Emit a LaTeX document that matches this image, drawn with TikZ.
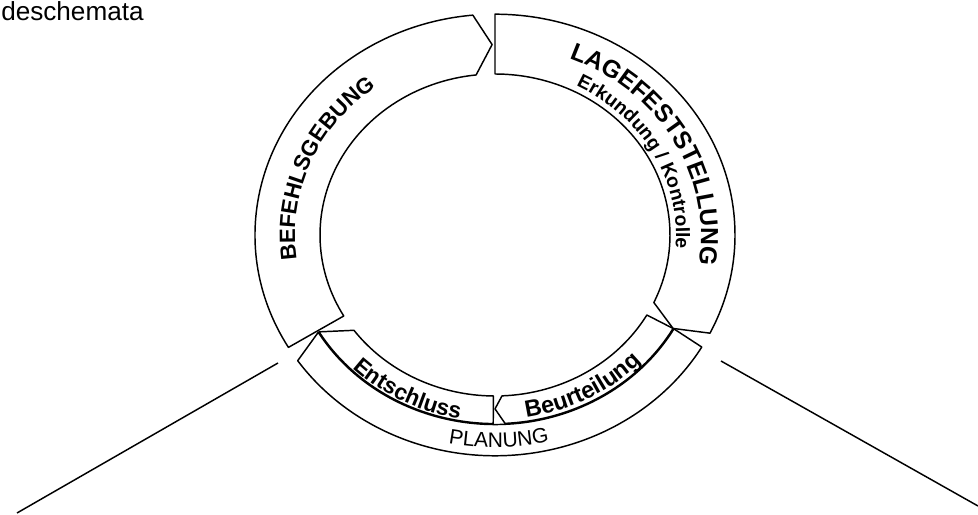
\documentclass[tikz,border=0pt]{standalone}
\usepackage{fontspec}
\setmainfont{Liberation Sans}
\usetikzlibrary{decorations.text}
\definecolor{ink}{HTML}{000000}
\newcommand\ringfont[1]{\fontsize{#1}{#1}\selectfont\bfseries}
\newcommand\ringfontmd[1]{\fontsize{#1}{#1}\selectfont}
\tikzset{
  ringbox/.style={draw=ink, line width=1.1pt, line join=round},
  leader/.style={draw=ink, line width=1.1pt},
  arclabel/.style={decorate, decoration={text along path, text align=center, text color=ink}}
}

\begin{document}
\begin{tikzpicture}[x=0.75pt, y=0.75pt]
  \useasboundingbox (0,0) rectangle (978,514);
  \node[anchor=base west, inner sep=0pt, text=ink, font=\fontsize{19.6pt}{21pt}\selectfont] (caption) at (1,493) {deschemata};

  \begin{scope}[shift={(495,279)}, yscale=0.92]
    % Befehlsgebung
    \draw[ringbox] (210.6:240) arc[start angle=210.6, end angle=95.3, radius=240]
      -- (90.8:207) -- (96.2:175) arc[start angle=96.2, end angle=210.2, radius=175] -- cycle;
    % Lagefeststellung
    \draw[ringbox] (90:240) arc[start angle=90, end angle=-26.4, radius=240]
      -- (-29.7:205) -- (-24.8:175) arc[start angle=-24.8, end angle=90, radius=175] -- cycle;
    % Planung
    \draw[ringbox] (-30.5:240) arc[start angle=-30.5, end angle=-145.3, radius=240]
      -- (-149.1:206) arc[start angle=-149.1, end angle=-29.7, radius=206] -- cycle;
    \draw[ringbox] (-143.7:175) arc[start angle=-143.7, end angle=-90.5, radius=175]
      -- (-90.5:205) arc[start angle=-90.5, end angle=-149.1, radius=205] -- cycle;
    \draw[ringbox] (-29.8:175) -- (-29.7:205) arc[start angle=-29.7, end angle=-87.2, radius=205]
      -- (-90:189) -- (-87.7:175) arc[start angle=-87.7, end angle=-29.8, radius=175] -- cycle;

    % labels
    \path[arclabel, decoration={text={|\ringfont{16.6pt}|BEFEHLSGEBUNG}}]
      (217.9:200) arc[start angle=217.9, end angle=97.9, radius=200];
    \path[arclabel, decoration={text={|\ringfont{18.5pt}|LAGEFESTSTELLUNG}}]
      (89.2:206) arc[start angle=89.2, end angle=-30.8, radius=206];
    \path[arclabel, decoration={text={|\ringfont{14.5pt}|Erkundung / Kontrolle}}]
      (88.5:181) arc[start angle=88.5, end angle=-31.5, radius=181];
    \path[arclabel, decoration={text={|\ringfont{16.9pt}|Entschluss}}]
      (-163.1:203) arc[start angle=-163.1, end angle=-73.1, radius=203];
    \path[arclabel, decoration={text={|\ringfont{17.6pt}|Beurteilung}}]
      (-106.3:201) arc[start angle=-106.3, end angle=-16.3, radius=201];
    \path[arclabel, decoration={text={|\ringfontmd{15.75pt}|PLANUNG}}]
      (-119:231) arc[start angle=-119, end angle=-59, radius=231];
  \end{scope}

  \coordinate (leftfoot) at (278,151);
  \coordinate (leftend) at (17,1);
  \coordinate (rightfoot) at (721,153);
  \coordinate (rightend) at (978,8);
  \draw[leader] (leftfoot) -- (leftend);
  \draw[leader] (rightfoot) -- (rightend);
\end{tikzpicture}
\end{document}
